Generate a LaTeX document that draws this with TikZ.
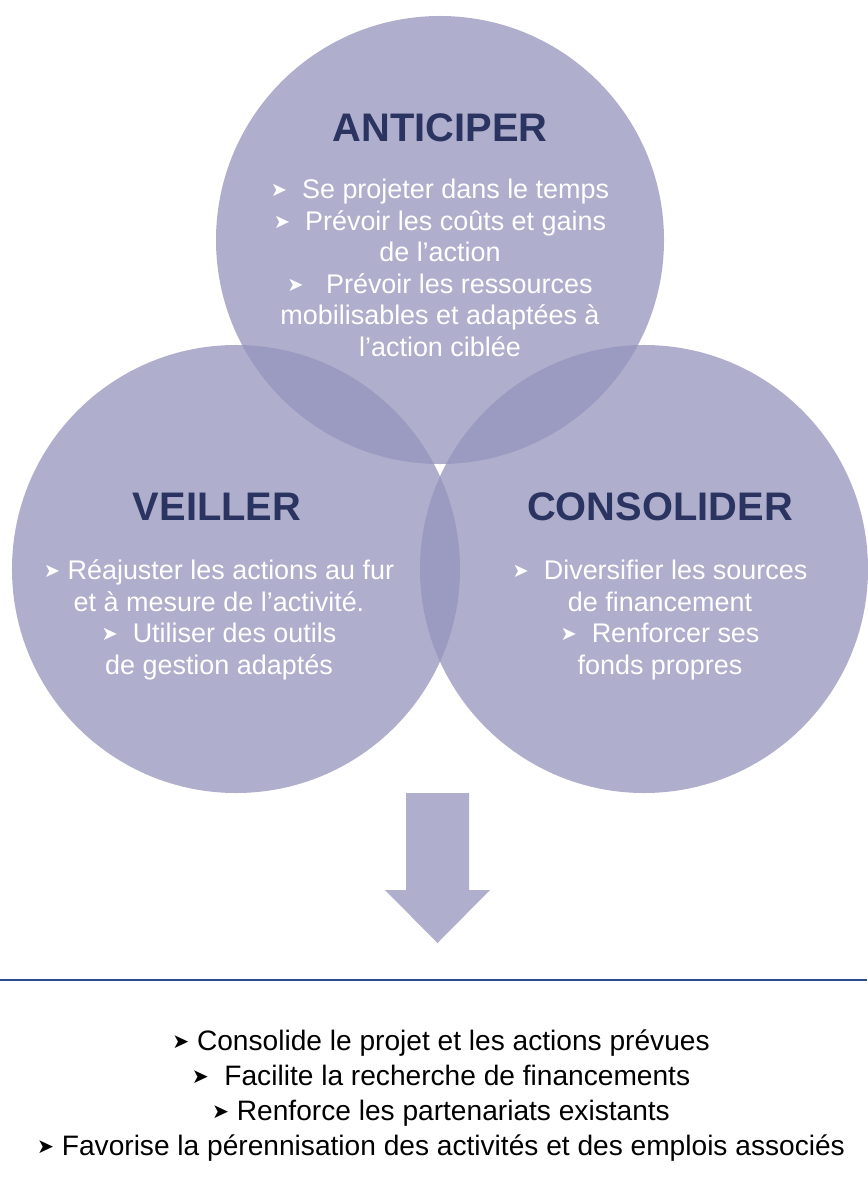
\documentclass[tikz,border=0pt]{standalone}
\usepackage{fontspec}
\setmainfont{Liberation Sans}
\newfontfamily\dejavu{DejaVu Sans}
\usetikzlibrary{positioning}
\definecolor{lavande}{RGB}{148,147,188}
\definecolor{lavclair}{RGB}{175,174,205}
\definecolor{marine}{RGB}{43,52,97}
\definecolor{trait}{RGB}{43,76,140}
\newcommand{\puce}{\raisebox{0.08em}{\scalebox{0.72}{\dejavu ➤}}}

\begin{document}
\begin{tikzpicture}[
    x=0.03cm, y=-0.03cm,
    bulle/.style={
        circle, fill=lavande, fill opacity=0.75,
        minimum size=13.44cm, inner sep=0pt
    },
    titre/.style={text=marine, font=\fontsize{34}{40}\selectfont\bfseries},
    texte/.style={text=white, align=center, font=\fontsize{23}{26.9}\selectfont},
    bilan/.style={text=black, align=center, font=\fontsize{24}{29.9}\selectfont}
]
\useasboundingbox (0,0) rectangle (867,1187);

% les trois bulles
\node[bulle] (anticiper) at (440,240) {};
\node[bulle] (veiller) at (236,569) {};
\node[bulle] (consolider) at (644,569) {};

% titres et textes
\node[titre] (titre-a) at (440,128) {ANTICIPER};
\node[texte] (texte-a) at (440,268) {\puce\ \ Se projeter dans le temps\\
    \puce\ \ Prévoir les coûts et gains\\ de l’action\\
    \puce\ \ \ Prévoir les ressources\\ mobilisables et adaptées à\\ l’action ciblée};

\node[titre] (titre-v) at (217,507) {VEILLER};
\node[texte] (texte-v) at (219,620) {\puce\ Réajuster les actions au fur\\
    et à mesure de l’activité.\\ \puce\ \ Utiliser des outils\\ de gestion adaptés};

\node[titre] (titre-c) at (660,507) {CONSOLIDER};
\node[texte] (texte-c) at (660,620) {\puce\ \ Diversifier les sources\\
    de financement\\ \puce\ \ Renforcer ses\\ fonds propres};

% fleche vers le bilan
\fill[lavclair] (406,793) -- (469,793) -- (469,890) -- (490,890)
    -- (437.5,943) -- (385,890) -- (406,890) -- cycle;
\draw[trait, line width=0.06cm] (0,980) -- (867,980);

\node[bilan] (bilan) at (441,1096) {\puce\ Consolide le projet et les actions prévues\\
    \puce\ \ Facilite la recherche de financements\\
    \puce\ Renforce les partenariats existants\\
    \puce\ Favorise la pérennisation des activités et des emplois associés};

\end{tikzpicture}
\end{document}
